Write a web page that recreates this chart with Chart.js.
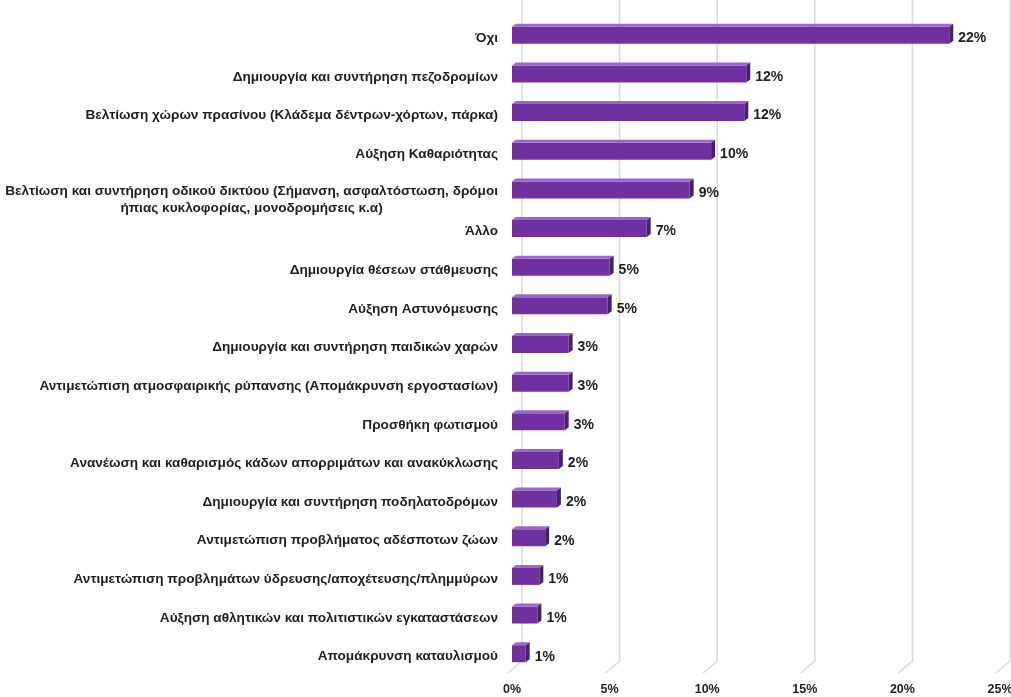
<!DOCTYPE html>
<html>
<head>
<meta charset="utf-8">
<script src="https://cdn.jsdelivr.net/npm/chart.js@4/dist/chart.umd.min.js"></script>
<style>
  html, body { margin: 0; padding: 0; background: #ffffff; }
  #wrap { width: 1011px; height: 697px; position: relative; }
</style>
</head>
<body>
<div id="wrap"><canvas id="c"></canvas></div>
<script>
const categories = [
  'Όχι',
  'Δημιουργία και συντήρηση πεζοδρομίων',
  'Βελτίωση χώρων πρασίνου (Κλάδεμα δέντρων-χόρτων, πάρκα)',
  'Αύξηση Καθαριότητας',
  ['Βελτίωση και συντήρηση οδικού δικτύου (Σήμανση, ασφαλτόστωση, δρόμοι', 'ήπιας κυκλοφορίας, μονοδρομήσεις κ.α)'],
  'Άλλο',
  'Δημιουργία θέσεων στάθμευσης',
  'Αύξηση Αστυνόμευσης',
  'Δημιουργία και συντήρηση παιδικών χαρών',
  'Αντιμετώπιση ατμοσφαιρικής ρύπανσης (Απομάκρυνση εργοστασίων)',
  'Προσθήκη φωτισμού',
  'Ανανέωση και καθαρισμός κάδων απορριμάτων και ανακύκλωσης',
  'Δημιουργία και συντήρηση ποδηλατοδρόμων',
  'Αντιμετώπιση προβλήματος αδέσποτων ζώων',
  'Αντιμετώπιση προβλημάτων ύδρευσης/αποχέτευσης/πλημμύρων',
  'Αύξηση αθλητικών και πολιτιστικών εγκαταστάσεων',
  'Απομάκρυνση καταυλισμού'
];
const shares = [22.4, 12.0, 11.9, 10.2, 9.1, 6.9, 5.0, 4.9, 2.9, 2.9, 2.7, 2.4, 2.3, 1.7, 1.4, 1.3, 0.7];
const axisTicks = [0, 5, 10, 15, 20, 25];

const FONT = '"Liberation Sans", Arial, sans-serif';
const TEXT = '#1e1e1e';

const gridPlugin = {
  id: 'grid3d',
  beforeDatasetsDraw(chart) {
    const ctx = chart.ctx, x = chart.scales.x, a = chart.chartArea;
    ctx.save();
    ctx.strokeStyle = '#d9d9d9';
    ctx.lineWidth = 1.5;
    axisTicks.forEach(v => {
      const xf = x.getPixelForValue(v);
      ctx.beginPath();
      ctx.moveTo(xf + 10, 0);
      ctx.lineTo(xf + 10, a.bottom - 12);
      ctx.lineTo(xf - 4, a.bottom);
      ctx.stroke();
    });
    ctx.restore();
  }
};

const facePlugin = {
  id: 'faces',
  afterDatasetsDraw(chart) {
    const ctx = chart.ctx, a = chart.chartArea;
    const meta = chart.getDatasetMeta(0);
    ctx.save();
    meta.data.forEach((bar, i) => {
      const p = bar.getProps(['x', 'y', 'base', 'height'], true);
      const x0 = p.base, x1 = p.x, y0 = p.y - p.height / 2, y1 = p.y + p.height / 2;
      const dx = 4, dy = 3;
      // top face
      ctx.fillStyle = '#9a68c9';
      ctx.beginPath();
      ctx.moveTo(x0, y0); ctx.lineTo(x1, y0); ctx.lineTo(x1 + dx, y0 - dy); ctx.lineTo(x0 + dx, y0 - dy);
      ctx.closePath(); ctx.fill();
      // side face
      ctx.fillStyle = '#4a1e70';
      ctx.beginPath();
      ctx.moveTo(x1, y0); ctx.lineTo(x1 + dx, y0 - dy); ctx.lineTo(x1 + dx, y1 - dy); ctx.lineTo(x1, y1);
      ctx.closePath(); ctx.fill();
      // value label
      ctx.fillStyle = TEXT;
      ctx.font = 'bold 14px ' + FONT;
      ctx.textAlign = 'left';
      ctx.textBaseline = 'middle';
      ctx.fillText(Math.round(shares[i]) + '%', x1 + 9, p.y + 3);
      // category label
      const lab = categories[i];
      ctx.font = 'bold 13.6px ' + FONT;
      const right = a.left - 14;
      if (Array.isArray(lab)) {
        const w = Math.max(...lab.map(s => ctx.measureText(s).width));
        ctx.textAlign = 'center';
        lab.forEach((s, k) => ctx.fillText(s, right - w / 2, p.y + 1 + k * 17));
      } else {
        ctx.textAlign = 'right';
        ctx.fillText(lab, right, p.y + 3);
      }
    });
    ctx.restore();
  }
};

new Chart(document.getElementById('c'), {
  type: 'bar',
  data: {
    labels: categories,
    datasets: [{
      data: shares,
      backgroundColor: '#7030a0',
      borderWidth: 0,
      barPercentage: 0.44,
      categoryPercentage: 1
    }]
  },
  options: {
    indexAxis: 'y',
    responsive: true,
    maintainAspectRatio: false,
    animation: false,
    layout: { padding: { left: 512, right: 11, top: 16, bottom: -9 } },
    plugins: { legend: { display: false }, tooltip: { enabled: false } },
    scales: {
      y: { display: false },
      x: {
        min: 0, max: 25,
        grid: { display: false, drawTicks: false },
        border: { display: false },
        ticks: {
          stepSize: 5,
          padding: 9,
          color: TEXT,
          font: { family: FONT, size: 12.5, weight: 'bold' },
          callback: v => v + '%'
        },
        afterBuildTicks(scale) { scale.ticks = axisTicks.map(v => ({ value: v })); },
        afterFit(scale) { scale.paddingRight = 0; scale.paddingLeft = 0; }
      }
    }
  },
  plugins: [gridPlugin, facePlugin]
});
</script>
</body>
</html>
